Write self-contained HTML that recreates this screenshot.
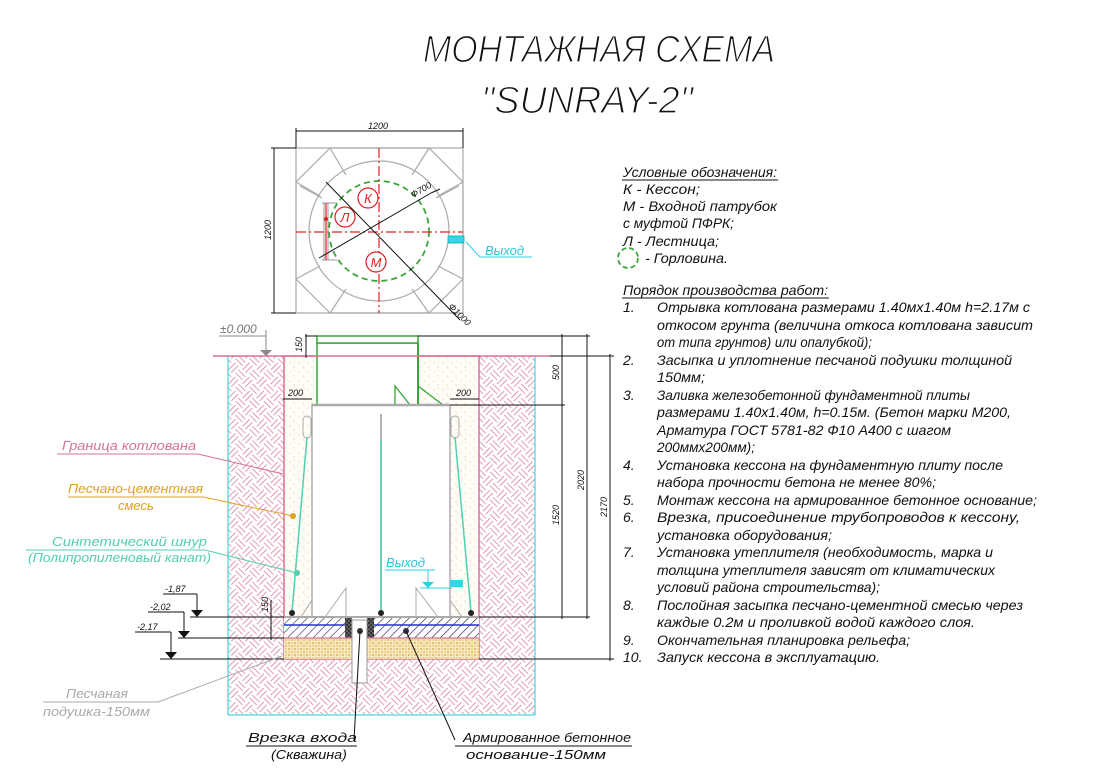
<!DOCTYPE html>
<html><head><meta charset="utf-8"><style>
html,body{margin:0;padding:0;background:#fff;}
svg{display:block;}
text{font-family:"Liberation Sans","DejaVu Sans",sans-serif;font-style:italic;}
</style></head><body>
<svg width="1108" height="779" viewBox="0 0 1108 779" xmlns="http://www.w3.org/2000/svg">
<defs>
<pattern id="soil" width="20" height="20" patternUnits="userSpaceOnUse" patternTransform="rotate(45)">
<rect width="20" height="20" fill="#fff"/>
<path d="M0 3H10M0 7H10M13 0V10M17 0V10M3 10V20M7 10V20M10 13H20M10 17H20" stroke="#dd7aa0" stroke-width="0.8"/>
</pattern>
<pattern id="sand" width="9" height="9" patternUnits="userSpaceOnUse">
<rect width="9" height="9" fill="#fefdf8"/>
<circle cx="2" cy="3" r="0.5" fill="#e0b050"/><circle cx="6" cy="7" r="0.5" fill="#e0b050"/><circle cx="7" cy="1" r="0.4" fill="#e0b050"/>
</pattern>
<pattern id="cush" width="6" height="6" patternUnits="userSpaceOnUse">
<rect width="6" height="6" fill="#f7e9c0"/>
<circle cx="1" cy="1" r="0.9" fill="#d9a030"/><circle cx="4" cy="4" r="0.9" fill="#e6b040"/><circle cx="4" cy="1" r="0.5" fill="#c08020"/><circle cx="1" cy="4" r="0.5" fill="#c08020"/>
</pattern>
<pattern id="hatch" width="6" height="6" patternUnits="userSpaceOnUse" patternTransform="rotate(45)">
<rect width="6" height="6" fill="#fff"/><line x1="0" y1="0" x2="0" y2="6" stroke="#222" stroke-width="1.2"/>
</pattern>
<pattern id="grain" width="4" height="4" patternUnits="userSpaceOnUse">
<rect width="4" height="4" fill="#333"/><circle cx="1" cy="1" r="0.8" fill="#999"/><circle cx="3" cy="3" r="0.8" fill="#999"/>
</pattern>
</defs>

<text x="423" y="62" font-size="38" textLength="352" lengthAdjust="spacingAndGlyphs" fill="#111" stroke="#fff" stroke-width="1.3">МОНТАЖНАЯ СХЕМА</text>
<text x="481" y="113" font-size="38" textLength="212" lengthAdjust="spacingAndGlyphs" fill="#111" stroke="#fff" stroke-width="1.3">"SUNRAY-2"</text>

<g stroke="#aaa" stroke-width="1.2" fill="none">
<polygon points="330,148 429,148 463,182 463,279 429,313 330,313 296,279 296,182"/>
<line x1="296" y1="148" x2="463" y2="148"/><line x1="296" y1="313" x2="463" y2="313"/>
<line x1="296" y1="148" x2="296" y2="313"/><line x1="463" y1="148" x2="463" y2="313"/>
<circle cx="379" cy="231" r="70"/>
<line x1="330" y1="148" x2="346" y2="175"/><line x1="429" y1="148" x2="412" y2="175"/>
<line x1="330" y1="313" x2="346" y2="289"/><line x1="429" y1="313" x2="412" y2="289"/>
<line x1="296" y1="182" x2="320" y2="196"/><line x1="463" y1="182" x2="438" y2="196"/>
<line x1="296" y1="279" x2="320" y2="266"/><line x1="463" y1="279" x2="438" y2="266"/>
<line x1="300" y1="186" x2="322" y2="198"/><line x1="459" y1="186" x2="436" y2="198"/>
</g>
<circle cx="379" cy="231" r="50" fill="none" stroke="#3aa53a" stroke-width="1.8" stroke-dasharray="6,4"/>
<g stroke="#e02020" stroke-width="1.2" stroke-dasharray="10,3,2,3">
<line x1="379" y1="148" x2="379" y2="313"/><line x1="296" y1="232" x2="463" y2="232"/>
</g>
<g stroke="#999" stroke-width="1"><line x1="322" y1="203" x2="337" y2="203"/><line x1="322" y1="260" x2="337" y2="260"/><line x1="324" y1="203" x2="324" y2="260"/><line x1="328" y1="203" x2="328" y2="260"/></g>
<line x1="326" y1="203" x2="326" y2="260" stroke="#e02020" stroke-width="1.2"/>
<circle cx="326" cy="219" r="2" fill="#e02020"/>
<g fill="#fff" stroke="#e02020" stroke-width="1.2">
<circle cx="368" cy="198" r="10"/><circle cx="345" cy="217" r="10"/><circle cx="376" cy="262" r="10"/>
</g>
<g fill="#e02020" font-size="13" text-anchor="middle"><text x="368" y="203">К</text><text x="345" y="222">Л</text><text x="376" y="267">М</text></g>
<g stroke="#111" stroke-width="1"><line x1="319" y1="258" x2="431" y2="193"/><line x1="431" y1="193" x2="440" y2="189"/><line x1="326" y1="182" x2="460" y2="320"/></g>
<text x="413" y="198" font-size="9" fill="#111" transform="rotate(-30 413 198)">Ф700</text>
<text x="448" y="307" font-size="9" fill="#111" transform="rotate(45 448 307)">Ф1000</text>
<rect x="448" y="236" width="16" height="7" fill="#30d8e8" stroke="#1aa" stroke-width="0.8"/>
<polyline points="466,242 480,257 532,257" fill="none" stroke="#2cd0e0" stroke-width="1"/>
<text x="485" y="255" font-size="13" fill="#2cc4dc">Выход</text>
<g stroke="#111" stroke-width="1"><line x1="296" y1="131" x2="463" y2="131"/><line x1="296" y1="128" x2="296" y2="148"/><line x1="463" y1="128" x2="463" y2="148"/>
<line x1="274" y1="148" x2="274" y2="313"/><line x1="271" y1="148" x2="296" y2="148"/><line x1="271" y1="313" x2="296" y2="313"/></g>
<text x="368" y="129" font-size="9" fill="#111">1200</text>
<text x="271" y="240" font-size="9" fill="#111" transform="rotate(-90 271 240)">1200</text>

<rect x="228" y="356" width="56" height="358" fill="url(#soil)"/>
<rect x="479" y="356" width="56" height="358" fill="url(#soil)"/>
<rect x="284" y="659" width="195" height="55" fill="url(#soil)"/>
<line x1="228" y1="356" x2="228" y2="715" stroke="#40d8e0" stroke-width="1.2"/>
<line x1="535" y1="356" x2="535" y2="715" stroke="#40d8e0" stroke-width="1.2"/>
<line x1="228" y1="715" x2="535" y2="715" stroke="#40d8e0" stroke-width="1.2"/>
<rect x="284" y="356" width="195" height="261" fill="url(#sand)"/>
<rect x="312" y="405" width="138" height="212" fill="#fff" stroke="#999" stroke-width="1.2"/>
<rect x="317" y="343" width="101" height="62" fill="#fff" stroke="#3aa53a" stroke-width="1.5"/>
<rect x="317" y="336" width="101" height="7" fill="#fff" stroke="#3aa53a" stroke-width="1.5"/>
<line x1="418" y1="343" x2="418" y2="405" stroke="#3aa53a" stroke-width="2"/>
<polygon points="395,386 395,405 410,405" fill="none" stroke="#3aa53a" stroke-width="1.3"/>
<polygon points="418,386 443,405 418,405" fill="none" stroke="#3aa53a" stroke-width="1.3"/>
<line x1="312" y1="405" x2="450" y2="405" stroke="#aaa" stroke-width="2.5"/>
<line x1="213" y1="356" x2="317" y2="356" stroke="#d9709a" stroke-width="1.5"/>
<line x1="418" y1="356" x2="550" y2="356" stroke="#d9709a" stroke-width="1.5"/>
<rect x="284" y="356" width="195" height="303" fill="none" stroke="#d9709a" stroke-width="1.5"/>
<line x1="381" y1="414" x2="381" y2="617" stroke="#999" stroke-width="1.5"/>
<line x1="381" y1="440" x2="381" y2="617" stroke="#50d0b0" stroke-width="1.5"/>
<g stroke="#aaa" stroke-width="1" fill="none">
<polyline points="325,617 346,588 346,617"/><polyline points="416,617 416,588 438,617"/>
<polyline points="301,617 312,600"/><polyline points="462,617 450,600"/>
<rect x="303" y="416" width="8" height="22" rx="4"/><rect x="451" y="416" width="8" height="22" rx="4"/>
</g>
<g stroke="#50d0b0" stroke-width="1.5"><line x1="307" y1="437" x2="292" y2="612"/><line x1="455" y1="437" x2="471" y2="612"/></g>
<g fill="#222"><circle cx="292" cy="613" r="3"/><circle cx="471" cy="613" r="3"/><circle cx="381" cy="613" r="3"/></g>
<rect x="284" y="617" width="61" height="21" fill="url(#hatch)"/>
<rect x="374" y="617" width="105" height="21" fill="url(#hatch)"/>
<rect x="345" y="617" width="7" height="21" fill="url(#grain)"/>
<rect x="367" y="617" width="7" height="21" fill="url(#grain)"/>
<line x1="284" y1="625" x2="345" y2="625" stroke="#2030e0" stroke-width="1.5"/>
<line x1="374" y1="625" x2="479" y2="625" stroke="#2030e0" stroke-width="1.5"/>
<line x1="284" y1="617" x2="479" y2="617" stroke="#aaa" stroke-width="2"/>
<rect x="284" y="638" width="68" height="21" fill="url(#cush)"/>
<rect x="367" y="638" width="112" height="21" fill="url(#cush)"/>
<line x1="284" y1="638" x2="479" y2="638" stroke="#d9709a" stroke-width="1.3"/>
<rect x="352" y="620" width="15" height="63" fill="#fff" stroke="#999" stroke-width="1"/>
<circle cx="360" cy="631" r="3" fill="#333"/><circle cx="406" cy="631" r="3" fill="#333"/>
<line x1="360" y1="631" x2="354" y2="740" stroke="#111"/>
<line x1="406" y1="631" x2="455" y2="740" stroke="#111"/>
<rect x="450" y="580" width="13" height="7" fill="#30d8e8"/>
<text x="386" y="567" font-size="13" fill="#2cc4dc">Выход</text>
<line x1="385" y1="570" x2="435" y2="570" stroke="#2cd0e0"/>
<line x1="428" y1="570" x2="428" y2="587" stroke="#2cd0e0"/>
<polygon points="422,582 434,582 428,588" fill="#2cd0e0"/>
<line x1="420" y1="588" x2="452" y2="588" stroke="#2cd0e0"/>
<text x="220" y="333" font-size="12" fill="#777">±0.000</text>
<line x1="219" y1="336" x2="266" y2="336" stroke="#888"/>
<line x1="266" y1="330" x2="266" y2="356" stroke="#888"/>
<polygon points="260,350 272,350 266,356" fill="#888"/>
<g stroke="#111" stroke-width="1" fill="none">
<line x1="305" y1="336" x2="317" y2="336"/><line x1="306" y1="334" x2="306" y2="358"/>
<line x1="283" y1="399" x2="312" y2="399"/><line x1="450" y1="399" x2="479" y2="399"/>
<line x1="418" y1="336" x2="590" y2="336"/><line x1="450" y1="405" x2="565" y2="405"/>
<line x1="479" y1="617" x2="590" y2="617"/><line x1="550" y1="356" x2="614" y2="356"/><line x1="479" y1="659" x2="614" y2="659"/>
<line x1="562" y1="334" x2="562" y2="619"/><line x1="587" y1="334" x2="587" y2="619"/><line x1="610" y1="354" x2="610" y2="661"/>
<line x1="271" y1="600" x2="271" y2="640"/>
<line x1="190" y1="617" x2="284" y2="617"/><line x1="178" y1="638" x2="284" y2="638"/><line x1="160" y1="659" x2="284" y2="659"/>
<line x1="197" y1="594" x2="197" y2="617"/><line x1="184" y1="612" x2="184" y2="638"/><line x1="171" y1="632" x2="171" y2="659"/>
<line x1="163" y1="594" x2="197" y2="594"/><line x1="148" y1="612" x2="184" y2="612"/><line x1="135" y1="632" x2="171" y2="632"/>
</g>
<g fill="#111"><polygon points="191,610 203,610 197,617"/><polygon points="178,631 190,631 184,638"/><polygon points="165,652 177,652 171,659"/></g>
<g font-size="9" fill="#111">
<text x="165" y="592">-1,87</text><text x="150" y="610">-2,02</text><text x="137" y="630">-2,17</text>
<text x="288" y="396">200</text><text x="456" y="396">200</text>
<text x="302" y="352" transform="rotate(-90 302 352)">150</text>
<text x="268" y="612" transform="rotate(-90 268 612)">150</text>
<text x="559" y="380" transform="rotate(-90 559 380)">500</text>
<text x="559" y="525" transform="rotate(-90 559 525)">1520</text>
<text x="584" y="490" transform="rotate(-90 584 490)">2020</text>
<text x="607" y="517" transform="rotate(-90 607 517)">2170</text>
</g>
<text x="62" y="450" font-size="13" fill="#d9709a" textLength="134" lengthAdjust="spacingAndGlyphs">Граница котлована</text>
<polyline points="57,454 198,454 283,474" fill="none" stroke="#d9709a"/>
<text x="68" y="493" font-size="13" fill="#e0a020" textLength="135" lengthAdjust="spacingAndGlyphs">Песчано-цементная</text>
<text x="118" y="510" font-size="13" fill="#e0a020">смесь</text>
<polyline points="68,497 203,497 293,516" fill="none" stroke="#e0a020"/>
<circle cx="293" cy="516" r="3" fill="#e0a020"/>
<text x="52" y="546" font-size="13" fill="#50d0b0" textLength="155" lengthAdjust="spacingAndGlyphs">Синтетический шнур</text>
<text x="28" y="562" font-size="13" fill="#50d0b0" textLength="183" lengthAdjust="spacingAndGlyphs">(Полипропиленовый канат)</text>
<polyline points="26,550 205,550 297,573" fill="none" stroke="#50d0b0"/>
<circle cx="297" cy="573" r="3" fill="#50d0b0"/>
<text x="66" y="698" font-size="13" fill="#aaa" textLength="62" lengthAdjust="spacingAndGlyphs">Песчаная</text>
<text x="43" y="716" font-size="13" fill="#aaa" textLength="107" lengthAdjust="spacingAndGlyphs">подушка-150мм</text>
<polyline points="43,702 158,702 282,656" fill="none" stroke="#aaa"/>
<text x="248" y="742" font-size="13" fill="#111" textLength="109" lengthAdjust="spacingAndGlyphs">Врезка входа</text>
<text x="271" y="759" font-size="13" fill="#111" textLength="76" lengthAdjust="spacingAndGlyphs">(Скважина)</text>
<line x1="246" y1="746" x2="357" y2="746" stroke="#111"/>
<text x="463" y="742" font-size="13" fill="#111" textLength="168" lengthAdjust="spacingAndGlyphs">Армированное бетонное</text>
<text x="466" y="759" font-size="13" fill="#111" textLength="140" lengthAdjust="spacingAndGlyphs">основание-150мм</text>
<line x1="455" y1="746" x2="632" y2="746" stroke="#111"/>

<g font-size="14" fill="#111">
<text x="623" y="177" textLength="154" lengthAdjust="spacingAndGlyphs">Условные обозначения:</text>
<line x1="622" y1="180" x2="778" y2="180" stroke="#111"/>
<text x="623" y="194" textLength="77" lengthAdjust="spacingAndGlyphs">К - Кессон;</text>
<text x="623" y="211" textLength="154" lengthAdjust="spacingAndGlyphs">М - Входной патрубок</text>
<text x="623" y="228" textLength="111" lengthAdjust="spacingAndGlyphs">с муфтой ПФРК;</text>
<text x="623" y="246" textLength="96" lengthAdjust="spacingAndGlyphs">Л - Лестница;</text>
<text x="645" y="263" textLength="83" lengthAdjust="spacingAndGlyphs">- Горловина.</text>
<text x="623" y="295" textLength="205" lengthAdjust="spacingAndGlyphs">Порядок производства работ:</text>
<line x1="622" y1="298" x2="829" y2="298" stroke="#111"/>
<text x="623" y="312">1.</text><text x="657" y="312" textLength="373" lengthAdjust="spacingAndGlyphs">Отрывка котлована размерами 1.40мх1.40м h=2.17м с</text>
<text x="657" y="330" textLength="376" lengthAdjust="spacingAndGlyphs">откосом грунта (величина откоса котлована зависит</text>
<text x="657" y="347" textLength="215" lengthAdjust="spacingAndGlyphs">от типа грунтов) или опалубкой);</text>
<text x="623" y="365">2.</text><text x="657" y="365" textLength="355" lengthAdjust="spacingAndGlyphs">Засыпка и уплотнение песчаной подушки толщиной</text>
<text x="657" y="382" textLength="48" lengthAdjust="spacingAndGlyphs">150мм;</text>
<text x="623" y="400">3.</text><text x="657" y="400" textLength="313" lengthAdjust="spacingAndGlyphs">Заливка железобетонной фундаментной плиты</text>
<text x="657" y="417" textLength="354" lengthAdjust="spacingAndGlyphs">размерами 1.40х1.40м, h=0.15м. (Бетон марки М200,</text>
<text x="657" y="435" textLength="294" lengthAdjust="spacingAndGlyphs">Арматура ГОСТ 5781-82 Ф10 А400 с шагом</text>
<text x="657" y="452" textLength="98" lengthAdjust="spacingAndGlyphs">200ммх200мм);</text>
<text x="623" y="470">4.</text><text x="657" y="470" textLength="346" lengthAdjust="spacingAndGlyphs">Установка кессона на фундаментную плиту после</text>
<text x="657" y="487" textLength="279" lengthAdjust="spacingAndGlyphs">набора прочности бетона не менее 80%;</text>
<text x="623" y="505">5.</text><text x="657" y="505" textLength="380" lengthAdjust="spacingAndGlyphs">Монтаж кессона на армированное бетонное основание;</text>
<text x="623" y="522">6.</text><text x="657" y="522" textLength="363" lengthAdjust="spacingAndGlyphs">Врезка, присоединение трубопроводов к кессону,</text>
<text x="657" y="540" textLength="175" lengthAdjust="spacingAndGlyphs">установка оборудования;</text>
<text x="623" y="557">7.</text><text x="657" y="557" textLength="336" lengthAdjust="spacingAndGlyphs">Установка утеплителя (необходимость, марка и</text>
<text x="657" y="575" textLength="338" lengthAdjust="spacingAndGlyphs">толщина утеплителя зависят от климатических</text>
<text x="657" y="592" textLength="223" lengthAdjust="spacingAndGlyphs">условий района строительства);</text>
<text x="623" y="610">8.</text><text x="657" y="610" textLength="366" lengthAdjust="spacingAndGlyphs">Послойная засыпка песчано-цементной смесью через</text>
<text x="657" y="627" textLength="318" lengthAdjust="spacingAndGlyphs">каждые 0.2м и проливкой водой каждого слоя.</text>
<text x="623" y="645">9.</text><text x="657" y="645" textLength="253" lengthAdjust="spacingAndGlyphs">Окончательная планировка рельефа;</text>
<text x="623" y="662">10.</text><text x="657" y="662" textLength="223" lengthAdjust="spacingAndGlyphs">Запуск кессона в эксплуатацию.</text>
</g>
<circle cx="628" cy="258" r="10" fill="none" stroke="#3aa53a" stroke-width="1.8" stroke-dasharray="5,3"/>
</svg>
</body></html>
